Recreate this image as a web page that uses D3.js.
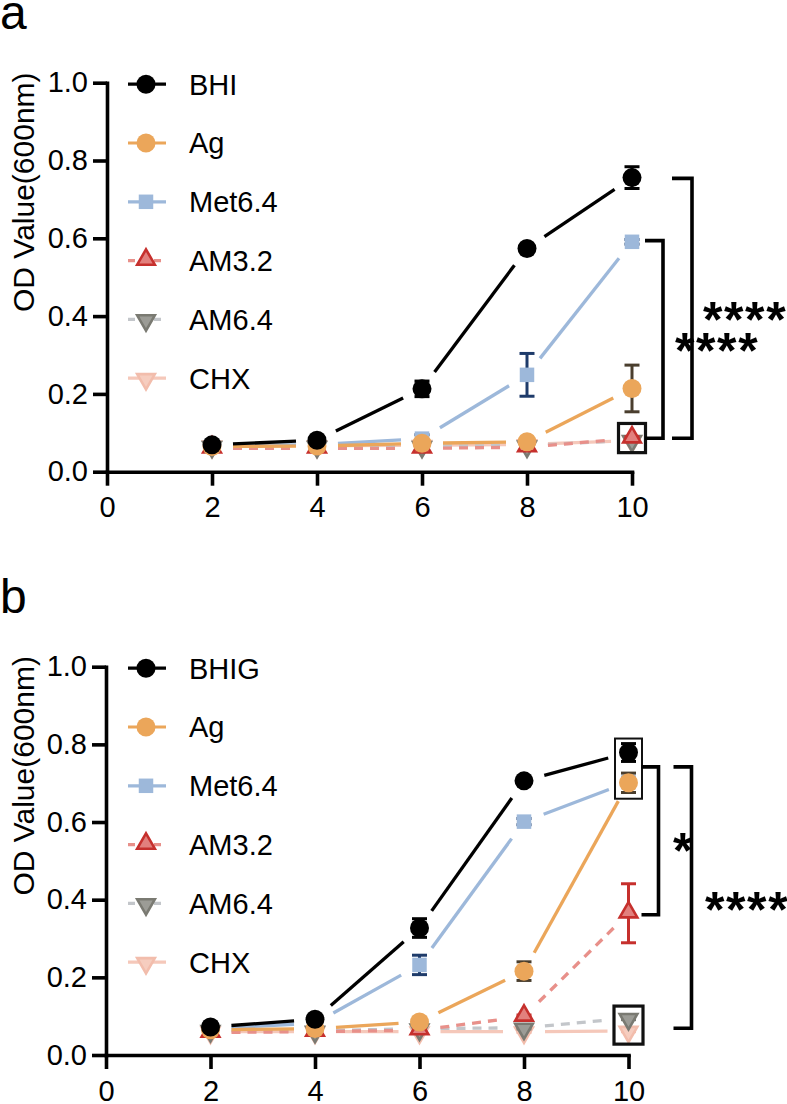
<!DOCTYPE html>
<html>
<head>
<meta charset="utf-8">
<script src="https://cdn.jsdelivr.net/npm/d3@7"></script>
<style>
  html, body { margin: 0; padding: 0; background: #fff; }
  svg { display: block; }
  text { font-family: "Liberation Sans", Arial, Helvetica, sans-serif; }
</style>
</head>
<body>
<script>
// ---------------- DATA ----------------
const hours = [2, 4, 6, 8, 10];
const xTickValues = [0, 2, 4, 6, 8, 10];
const yTickValues = [0, 0.2, 0.4, 0.6, 0.8, 1.0];
const yAxisTitle = "OD Value(600nm)";

const seriesKeys = ["ctrl", "Ag", "Met", "AM32", "AM64", "CHX"];
const legendNamesA = ["BHI", "Ag", "Met6.4", "AM3.2", "AM6.4", "CHX"];
const legendNamesB = ["BHIG", "Ag", "Met6.4", "AM3.2", "AM6.4", "CHX"];

// Panel a (BHI medium)
const a_ctrl = [0.069, 0.081, 0.213, 0.574, 0.756];
const a_ctrl_err = [0.008, 0.008, 0.020, 0.006, 0.028];
const a_Ag = [0.065, 0.066, 0.073, 0.077, 0.214];
const a_Ag_err = [0.004, 0.004, 0.004, 0.004, 0.060];
const a_Met = [0.066, 0.070, 0.085, 0.249, 0.591];
const a_Met_err = [0.004, 0.004, 0.010, 0.055, 0.006];
const a_AM32 = [0.060, 0.060, 0.060, 0.063, 0.086];
const a_AM32_err = [0.003, 0.003, 0.003, 0.003, 0.004];
const a_AM64 = [0.066, 0.066, 0.066, 0.067, 0.081];
const a_AM64_err = [0.012, 0.004, 0.004, 0.004, 0.004];
const a_CHX = [0.067, 0.067, 0.068, 0.070, 0.080];
const a_CHX_err = [0.003, 0.003, 0.003, 0.003, 0.003];

// Panel b (BHIG medium)
const b_ctrl = [0.072, 0.092, 0.327, 0.706, 0.779];
const b_ctrl_err = [0.006, 0.006, 0.024, 0.008, 0.023];
const b_Ag = [0.065, 0.068, 0.085, 0.216, 0.701];
const b_Ag_err = [0.004, 0.004, 0.006, 0.024, 0.025];
const b_Met = [0.068, 0.082, 0.232, 0.601, 0.703];
const b_Met_err = [0.004, 0.004, 0.025, 0.008, 0.010];
const b_AM32 = [0.058, 0.060, 0.064, 0.099, 0.365];
const b_AM32_err = [0.003, 0.003, 0.003, 0.004, 0.076];
const b_AM64 = [0.064, 0.062, 0.068, 0.070, 0.095];
const b_AM64_err = [0.003, 0.003, 0.003, 0.003, 0.004];
const b_CHX = [0.060, 0.060, 0.060, 0.060, 0.062];
const b_CHX_err = [0.002, 0.002, 0.002, 0.002, 0.002];

// Significance annotations (values in OD units)
const a_brackets = [
  { top: 0.594, bottom: 0.086, label: "****", labelX: 675, labelV: 0.332, start: 13, vert: 31 },
  { top: 0.754, bottom: 0.086, label: "****", labelX: 703, labelV: 0.410, start: 40, vert: 60 }
];
const b_brackets = [
  { top: 0.742, bottom: 0.361, label: "*", labelX: 673, labelV: 0.545, start: 13, vert: 30 },
  { top: 0.742, bottom: 0.069, label: "****", labelX: 705, labelV: 0.395, start: 45, vert: 63 }
];
const a_boxes = [ { lo: 0.049, hi: 0.124, w: 27, sw: 3.2 } ];
const b_boxes = [ { lo: 0.660, hi: 0.815, w: 27, sw: 2 }, { lo: 0.028, hi: 0.126, w: 29, sw: 3.2 } ];

// ---------------- STYLES ----------------
const styles = {
  ctrl: { line: "#000000", dash: null, shape: "circle", fill: "#000000", stroke: "none", err: "#000000" },
  Ag:   { line: "#EBA65A", dash: null, shape: "circle", fill: "#EBA65A", stroke: "none", err: "#4A3E2E" },
  Met:  { line: "#9DB8DA", dash: null, shape: "square", fill: "#9DB8DA", stroke: "none", err: "#1E3B6A" },
  AM32: { line: "#E8908A", dash: "9,7", shape: "up", fill: "#E2807D", stroke: "#C6302D", err: "#C6302D" },
  AM64: { line: "#C3C6CA", dash: "9,7", shape: "down", fill: "#9C9C96", stroke: "#7A7A72", err: "#7A7A72" },
  CHX:  { line: "#F5C8BA", dash: null, shape: "down", fill: "#F6CDBF", stroke: "#F2BDAC", err: "#F2BDAC" }
};

const svg = d3.select("body").append("svg").attr("width", 787).attr("height", 1104);

function markerPath(shape) {
  if (shape === "circle") return d3.symbol(d3.symbolCircle, Math.PI * 9.5 * 9.5)();
  if (shape === "square") return d3.symbol(d3.symbolSquare, 14.5 * 14.5)();
  return d3.symbol(d3.symbolTriangle, 135)();
}
function drawMarker(g, shape, st, x, y) {
  const p = g.append("path")
    .attr("d", markerPath(shape))
    .attr("fill", st.fill)
    .attr("stroke", st.stroke)
    .attr("stroke-width", st.stroke === "none" ? 0 : 2.6)
    .attr("stroke-linejoin", "miter");
  if (shape === "down") p.attr("transform", `translate(${x},${y + 1}) rotate(180)`);
  else if (shape === "up") p.attr("transform", `translate(${x},${y - 1})`);
  else p.attr("transform", `translate(${x},${y})`);
}

function drawPanel(cfg) {
  const g = svg.append("g");
  const x = d3.scaleLinear().domain([0, 10]).range([cfg.x0, cfg.x10]);
  const y = d3.scaleLinear().domain([0, 1]).range([cfg.yBottom, cfg.yTop]);

  // panel label
  g.append("text").attr("x", 0).attr("y", cfg.labelY)
    .attr("font-size", 48).attr("fill", "#000").text(cfg.label);

  // axis title
  g.append("text")
    .attr("transform", `translate(33.5,${(cfg.yTop + cfg.yBottom) / 2 - 85}) rotate(-90)`)
    .attr("text-anchor", "middle").attr("font-size", 30).attr("fill", "#000")
    .text(yAxisTitle);

  // axes
  const yAxis = d3.axisLeft(y).tickValues(yTickValues).tickFormat(d3.format(".1f"))
    .tickSize(14).tickSizeOuter(0).tickPadding(5);
  const xAxis = d3.axisBottom(x).tickValues(xTickValues).tickFormat(d3.format("d"))
    .tickSize(14).tickSizeOuter(0).tickPadding(11);
  const ya = g.append("g").attr("transform", `translate(${cfg.x0},0)`).call(yAxis);
  const xa = g.append("g").attr("transform", `translate(0,${cfg.yBottom})`).call(xAxis);
  [ya, xa].forEach(a => {
    a.selectAll("path.domain").attr("stroke", "#000").attr("stroke-width", 3.6).attr("stroke-linecap", "square");
    a.selectAll(".tick line").attr("stroke", "#000").attr("stroke-width", 3.6);
    a.selectAll(".tick text").attr("font-size", 29).attr("fill", "#000")
      .attr("font-family", "'Liberation Sans', Arial, sans-serif");
  });

  // legend
  const legY0 = cfg.yTop + 1.5, legStep = 58.8;
  cfg.names.forEach((name, i) => {
    const key = seriesKeys[i], st = styles[key];
    const ly = legY0 + i * legStep;
    const lg = g.append("g");
    lg.append("line").attr("x1", 128).attr("x2", 166).attr("y1", ly).attr("y2", ly)
      .attr("stroke", st.line).attr("stroke-width", 3.2)
      .attr("stroke-dasharray", st.dash ? "7,6" : null);
    drawMarker(lg, st.shape, st, 146, ly);
    lg.append("text").attr("x", 189).attr("y", ly).attr("dy", "0.36em")
      .attr("font-size", 29).attr("fill", "#000").text(name);
  });

  // series (draw last series first so first is on top)
  const gap = 21;
  for (let i = seriesKeys.length - 1; i >= 0; i--) {
    const key = seriesKeys[i], st = styles[key];
    const vals = cfg.values[key], errs = cfg.errors[key];
    const sg = g.append("g");
    const pts = hours.map((h, j) => [x(h), y(vals[j])]);
    for (let j = 0; j < pts.length - 1; j++) {
      const [x1, y1] = pts[j], [x2, y2] = pts[j + 1];
      const dx = x2 - x1, dy = y2 - y1, L = Math.hypot(dx, dy);
      if (L <= 2 * gap) continue;
      const ux = dx / L, uy = dy / L;
      sg.append("line")
        .attr("x1", x1 + ux * gap).attr("y1", y1 + uy * gap)
        .attr("x2", x2 - ux * gap).attr("y2", y2 - uy * gap)
        .attr("stroke", st.line).attr("stroke-width", 3.3)
        .attr("stroke-dasharray", st.dash);
    }
    hours.forEach((h, j) => {
      const cx = x(h), v = vals[j], e = errs[j];
      const yt = y(v + e), yb = y(v - e);
      sg.append("line").attr("x1", cx).attr("x2", cx).attr("y1", yt).attr("y2", yb)
        .attr("stroke", st.err).attr("stroke-width", 3);
      [yt, yb].forEach(yy => sg.append("line").attr("x1", cx - 7.5).attr("x2", cx + 7.5)
        .attr("y1", yy).attr("y2", yy).attr("stroke", st.err).attr("stroke-width", 3));
      drawMarker(sg, st.shape, st, cx, y(v));
    });
  }

  // highlight boxes
  cfg.boxes.forEach(b => {
    g.append("rect").attr("x", x(10) - b.w / 2).attr("y", y(b.hi))
      .attr("width", b.w).attr("height", y(b.lo) - y(b.hi))
      .attr("fill", "none").attr("stroke", "#111").attr("stroke-width", b.sw);
  });

  // brackets & stars
  cfg.brackets.forEach(b => {
    const xs = x(10) + b.start, xv = x(10) + b.vert;
    g.append("path")
      .attr("d", `M${xs},${y(b.top)}H${xv}V${y(b.bottom)}H${xs}`)
      .attr("fill", "none").attr("stroke", "#000").attr("stroke-width", 3.6);
  });
  cfg.brackets.forEach(b => {
    g.append("text").attr("x", b.labelX).attr("y", y(b.labelV) + 25)
      .attr("font-size", 50).attr("font-weight", "bold").attr("letter-spacing", 1.6)
      .attr("fill", "#000").text(b.label);
  });
}

drawPanel({
  label: "a", labelY: 29, x0: 107, x10: 632, yTop: 82.7, yBottom: 471.7,
  names: legendNamesA,
  values: { ctrl: a_ctrl, Ag: a_Ag, Met: a_Met, AM32: a_AM32, AM64: a_AM64, CHX: a_CHX },
  errors: { ctrl: a_ctrl_err, Ag: a_Ag_err, Met: a_Met_err, AM32: a_AM32_err, AM64: a_AM64_err, CHX: a_CHX_err },
  brackets: a_brackets, boxes: a_boxes
});
drawPanel({
  label: "b", labelY: 613, x0: 106, x10: 628.5, yTop: 666.7, yBottom: 1055,
  names: legendNamesB,
  values: { ctrl: b_ctrl, Ag: b_Ag, Met: b_Met, AM32: b_AM32, AM64: b_AM64, CHX: b_CHX },
  errors: { ctrl: b_ctrl_err, Ag: b_Ag_err, Met: b_Met_err, AM32: b_AM32_err, AM64: b_AM64_err, CHX: b_CHX_err },
  brackets: b_brackets, boxes: b_boxes
});
</script>
</body>
</html>
